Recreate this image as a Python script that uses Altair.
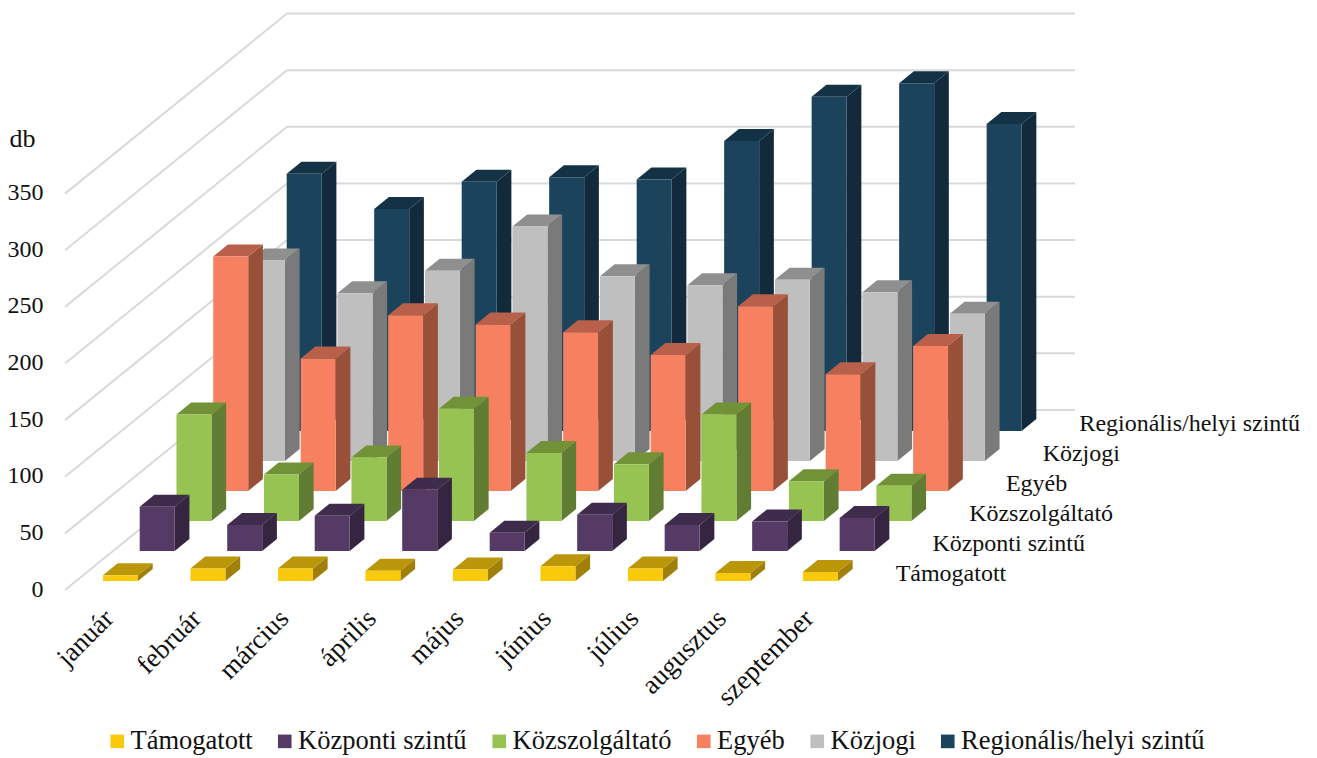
import json
import altair as alt
import pandas as pd

months = ["január", "február", "március", "április", "május", "június", "július", "augusztus", "szeptember"]
series = ["Támogatott", "Központi szintű", "Közszolgáltató", "Egyéb", "Közjogi", "Regionális/helyi szintű"]

tamogatott = [5, 11, 11, 9, 10, 13, 11, 7, 8]
kozponti = [39, 23, 31, 54, 16, 32, 23, 26, 29]
kozszolgaltato = [94, 41, 56, 99, 60, 50, 94, 35, 31]
egyeb = [207, 117, 155, 147, 140, 120, 163, 103, 128]
kozjogi = [177, 148, 168, 207, 163, 155, 160, 149, 130]
regionalis = [227, 196, 220, 224, 222, 256, 295, 307, 271]
values = [tamogatott, kozponti, kozszolgaltato, egyeb, kozjogi, regionalis]

front_colors = ["#F9C90B", "#553A66", "#97C353", "#F78060", "#BFBFBF", "#1B435C"]
top_colors = ["#BA9608", "#3F2B4C", "#719237", "#B8604A", "#8F8F8F", "#143245"]
side_colors = ["#A0800A", "#362541", "#617C33", "#985039", "#7A7A7A", "#122A3B"]

# Oblique projection: x runs in month slots, y in db; each row steps back by a fixed offset.
row_dx, row_dy = 0.42, 26.5
base_y = 8
bar_w = 0.4
depth_dx, depth_dy = 0.168, 10.6
x_min, x_max = -0.434, 11.11
y_max = 509.5
wall_dx, wall_dy = 2.537, 159

font = "Liberation Serif"
ticks = [0, 50, 100, 150, 200, 250, 300, 350]

x_scale = alt.Scale(domain=[x_min, x_max], nice=False, zero=False)
y_scale = alt.Scale(domain=[0, y_max], nice=False, zero=False)

month_expr = json.dumps(months, ensure_ascii=False) + "[datum.value]"
x_axis = alt.Axis(
    values=list(range(len(months))),
    labelExpr=month_expr,
    labelAngle=-45,
    labelAlign="right",
    labelBaseline="middle",
    labelOffset=6,
    labelPadding=24,
    labelFont=font,
    labelFontSize=27,
    labelColor="#111111",
    labelOverlap=False,
    labelBound=False,
    labelFlush=False,
    domain=False,
    ticks=False,
    grid=False,
    title=None,
)
y_axis = alt.Axis(
    values=ticks,
    labelPadding=22,
    labelFont=font,
    labelFontSize=24,
    labelColor="#111111",
    labelOffset=-1,
    domain=False,
    ticks=False,
    grid=False,
    title="db",
    titleFont=font,
    titleFontSize=26,
    titleFontWeight="normal",
    titleColor="#111111",
    titleAngle=0,
    titleAlign="left",
    titleBaseline="middle",
    titleX=-56,
    titleY=125,
)
x_enc = alt.X("x:Q", scale=x_scale, axis=x_axis)
y_enc = alt.Y("y:Q", scale=y_scale, axis=y_axis)

walls = pd.DataFrame(
    [{"x": x_min, "x2": x_min + wall_dx, "y": t, "y2": t + wall_dy} for t in ticks]
    + [{"x": x_min + wall_dx, "x2": x_max, "y": t + wall_dy, "y2": t + wall_dy} for t in ticks]
)
grid = alt.Chart(walls).mark_rule(color="#D9D9D9", strokeWidth=2).encode(
    x=x_enc, x2="x2:Q", y=y_enc, y2="y2:Q"
)

layers = [grid]
# Rows are painted from the back wall forward so nearer bars cover farther ones.
for k in reversed(range(len(series))):
    fronts, sides, tops = [], [], []
    for i, v in enumerate(values[k]):
        x0 = i + k * row_dx
        y0 = base_y + k * row_dy
        x1 = x0 + bar_w
        fronts.append({"series": series[k], "x": x0, "x2": x1, "y": y0, "y2": y0 + v})
        sides += [
            {"bar": i, "x": x1, "y": y0, "y2": y0 + v},
            {"bar": i, "x": x1 + depth_dx, "y": y0 + depth_dy, "y2": y0 + v + depth_dy},
        ]
        tops += [
            {"bar": i, "y": y0 + v, "x": x0, "x2": x1},
            {"bar": i, "y": y0 + v + depth_dy, "x": x0 + depth_dx, "x2": x1 + depth_dx},
        ]
    layers.append(
        alt.Chart(pd.DataFrame(sides)).mark_area(color=side_colors[k], orient="vertical", opacity=1).encode(
            x=x_enc, y=y_enc, y2="y2:Q", detail="bar:N"
        )
    )
    layers.append(
        alt.Chart(pd.DataFrame(tops)).mark_area(color=top_colors[k], orient="horizontal", opacity=1).encode(
            x=x_enc, x2="x2:Q", y=y_enc, detail="bar:N"
        )
    )
    layers.append(
        alt.Chart(pd.DataFrame(fronts)).mark_rect(opacity=1).encode(
            x=x_enc,
            x2="x2:Q",
            y=y_enc,
            y2="y2:Q",
            color=alt.Color(
                "series:N",
                sort=series,
                scale=alt.Scale(domain=series, range=front_colors),
                legend=alt.Legend(
                    title=None,
                    orient="none",
                    legendX=39,
                    legendY=715,
                    direction="horizontal",
                    columns=6,
                    columnPadding=18.5,
                    symbolType="square",
                    symbolSize=185,
                    symbolStrokeWidth=0,
                    symbolOpacity=1,
                    labelOffset=0,
                    labelFont=font,
                    labelFontSize=26.5,
                    labelColor="#111111",
                    labelLimit=400,
                ),
            ),
        )
    )

# Row names sit just past the last month of each row.
row_labels = pd.DataFrame(
    [
        {"name": name, "x": 9.06 + k * row_dx, "y": base_y + 6 + k * row_dy}
        for k, name in enumerate(series)
    ]
)
layers.append(
    alt.Chart(row_labels).mark_text(
        align="left", baseline="middle", font=font, fontSize=24, color="#111111"
    ).encode(x=x_enc, y=y_enc, text="name:N")
)

chart = (
    alt.layer(*layers)
    .properties(
        width=1010,
        height=577,
        background="white",
        padding={"left": 65, "top": 13, "right": 242, "bottom": 168},
        autosize=alt.AutoSizeParams(type="none"),
    )
    .configure_view(strokeWidth=0)
)

chart.save("out.html", embed_options={"renderer": "svg", "actions": False})
